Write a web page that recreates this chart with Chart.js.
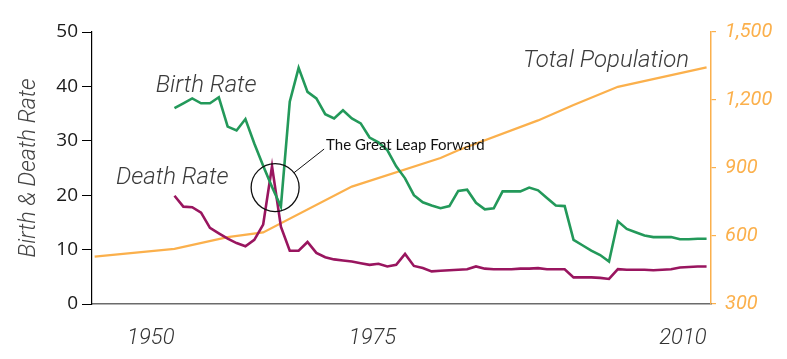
<!DOCTYPE html>
<html>
<head>
<meta charset="utf-8">
<script src="https://cdn.jsdelivr.net/npm/chart.js@4.4.1/dist/chart.umd.min.js"></script>
<style>
  html, body { margin: 0; padding: 0; background: #fff; }
  #wrap { width: 787px; height: 359px; position: relative; }
</style>
</head>
<body>
<div id="wrap"><canvas id="popChart"></canvas></div>
<script>
// yearly rates, per 1,000 people
var years = [1950, 1951, 1952, 1953, 1954, 1955, 1956, 1957, 1958, 1959,
  1960, 1961, 1962, 1963, 1964, 1965, 1966, 1967, 1968, 1969,
  1970, 1971, 1972, 1973, 1974, 1975, 1976, 1977, 1978, 1979,
  1980, 1981, 1982, 1983, 1984, 1985, 1986, 1987, 1988, 1989,
  1990, 1991, 1992, 1993, 1994, 1995, 1996, 1997, 1998, 1999,
  2000, 2001, 2002, 2003, 2004, 2005, 2006, 2007, 2008, 2009, 2010];

var birthRate = [36.0, 36.9, 37.8, 36.9, 36.9, 38.0, 32.6, 31.9, 34.0, 29.5,
  25.4, 21.5, 17.9, 37.2, 43.4, 39.0, 37.8, 34.9, 34.1, 35.6,
  34.1, 33.2, 30.6, 29.7, 28.3, 25.3, 23.1, 20.0, 18.7, 18.1,
  17.6, 18.0, 20.8, 21.0, 18.6, 17.4, 17.6, 20.7, 20.7, 20.7,
  21.4, 20.9, 19.5, 18.1, 18.0, 11.8, 10.8, 9.8, 9.0, 7.8,
  15.2, 13.8, 13.2, 12.6, 12.3, 12.3, 12.3, 11.9, 11.9, 12.0, 12.0];

var deathRate = [19.9, 17.9, 17.8, 16.8, 14.0, 13.0, 12.0, 11.2, 10.6, 11.8,
  14.6, 25.3, 14.2, 9.8, 9.8, 11.4, 9.4, 8.6, 8.2, 8.0,
  7.8, 7.5, 7.2, 7.4, 6.9, 7.2, 9.2, 7.0, 6.6, 6.0,
  6.1, 6.2, 6.3, 6.4, 6.9, 6.5, 6.4, 6.4, 6.4, 6.5,
  6.5, 6.6, 6.4, 6.4, 6.4, 4.9, 4.9, 4.9, 4.8, 4.6,
  6.4, 6.3, 6.3, 6.3, 6.2, 6.3, 6.4, 6.7, 6.8, 6.9, 6.9];

// total population, millions (right axis)
var popYears = [1941, 1950, 1956, 1960, 1970, 1980, 1982, 1991, 1995, 2000, 2010];
var popValues = [509, 543, 595, 616, 818, 944, 978, 1110, 1178, 1258, 1344];

var xTicks = [1950, 1975, 2010];
var rateTicks = [0, 10, 20, 30, 40, 50];
var popTicks = [300, 600, 900, 1200, 1500];

var GREEN = '#23995a';
var PURPLE = '#99155f';
var ORANGE = '#fbb04c';

// text labels, anchored in data space (year, rate)
var seriesLabels = [
  { text: 'Birth Rate', year: 1947.9, value: 39.0 },
  { text: 'Death Rate', year: 1943.4, value: 22.0 },
  { text: 'Total Population', year: 1989.3, value: 43.6 }
];
var leapCircle = { year: 1961.35, value: 21.4, r: 24 };
var leapNote = { text: 'The Great Leap Forward', year: 1967.1, value: 28.3 };

function toPoints(xs, ys) {
  return xs.map(function (x, i) { return { x: x, y: ys[i] }; });
}

var notesPlugin = {
  id: 'notes',
  afterDatasetsDraw: function (chart) {
    var ctx = chart.ctx;
    var x = chart.scales.x, y = chart.scales.y;
    ctx.save();
    ctx.fillStyle = '#3b3b3b';
    ctx.font = 'italic 300 24px Roboto, "Liberation Sans", sans-serif';
    ctx.textAlign = 'left';
    ctx.textBaseline = 'alphabetic';
    seriesLabels.forEach(function (l) {
      ctx.fillText(l.text, x.getPixelForValue(l.year), y.getPixelForValue(l.value));
    });

    // circle round the 1960 crossing, with a leader line to the note
    var cx = x.getPixelForValue(leapCircle.year);
    var cy = y.getPixelForValue(leapCircle.value);
    var tx = x.getPixelForValue(leapNote.year);
    var ty = y.getPixelForValue(leapNote.value);
    ctx.strokeStyle = '#111';
    ctx.lineWidth = 1.3;
    ctx.beginPath();
    ctx.arc(cx, cy, leapCircle.r, 0, Math.PI * 2);
    ctx.stroke();
    var ang = Math.atan2(ty - 1 - cy, tx - 2 - cx);
    ctx.lineWidth = 1;
    ctx.beginPath();
    ctx.moveTo(cx + leapCircle.r * Math.cos(ang), cy + leapCircle.r * Math.sin(ang));
    ctx.lineTo(tx - 2, ty - 1);
    ctx.stroke();

    ctx.fillStyle = '#111';
    ctx.font = '15px Lato, "Open Sans", sans-serif';
    ctx.fillText(leapNote.text, tx, ty);
    ctx.restore();
  }
};

var ctx = document.getElementById('popChart').getContext('2d');
var chart = new Chart(ctx, {
  type: 'line',
  data: {
    datasets: [
      {
        label: 'Birth Rate',
        data: toPoints(years, birthRate),
        borderColor: GREEN,
        borderWidth: 2.6,
        yAxisID: 'y'
      },
      {
        label: 'Death Rate',
        data: toPoints(years, deathRate),
        borderColor: PURPLE,
        borderWidth: 2.6,
        yAxisID: 'y'
      },
      {
        label: 'Total Population',
        data: toPoints(popYears, popValues),
        borderColor: ORANGE,
        borderWidth: 2.2,
        yAxisID: 'y1'
      }
    ]
  },
  options: {
    responsive: true,
    maintainAspectRatio: false,
    animation: false,
    layout: { padding: { top: 32, left: 0, right: 0, bottom: 0 } },
    elements: {
      point: { radius: 0, hoverRadius: 0 },
      line: { tension: 0, fill: false }
    },
    plugins: {
      legend: { display: false },
      tooltip: { enabled: false }
    },
    scales: {
      x: {
        type: 'linear',
        min: 1940.7,
        max: 2010.5,
        afterBuildTicks: function (scale) {
          scale.ticks = xTicks.map(function (v) { return { value: v }; });
        },
        afterFit: function (scale) { scale.height = 55; },
        grid: { display: false, drawTicks: false },
        border: { display: true, color: '#6b6b6b', width: 1.5 },
        ticks: {
          align: 'end',
          padding: 21,
          maxRotation: 0,
          color: '#333',
          font: { family: 'Roboto', size: 22, style: 'italic', weight: '300' },
          callback: function (v) { return String(v); }
        }
      },
      y: {
        position: 'left',
        min: 0,
        max: 50,
        afterBuildTicks: function (scale) {
          scale.ticks = rateTicks.map(function (v) { return { value: v }; });
        },
        afterFit: function (scale) { scale.width = 92; },
        grid: { drawOnChartArea: false, tickLength: 10, color: '#000', lineWidth: 1 },
        border: { color: '#000', width: 1.2 },
        ticks: {
          padding: 4,
          color: '#1a1a1a',
          font: { family: 'Open Sans', size: 19 }
        },
        title: {
          display: true,
          text: 'Birth & Death Rate',
          color: '#444',
          padding: { top: 15, bottom: 0 },
          font: { family: 'Roboto', size: 23, style: 'italic', weight: '300' }
        }
      },
      y1: {
        position: 'right',
        min: 300,
        max: 1500,
        afterBuildTicks: function (scale) {
          scale.ticks = popTicks.map(function (v) { return { value: v }; });
        },
        afterFit: function (scale) { scale.width = 76; },
        grid: { drawOnChartArea: false, tickLength: 5, color: ORANGE, lineWidth: 1.2 },
        border: { color: ORANGE, width: 1.5 },
        ticks: {
          padding: 9,
          color: ORANGE,
          font: { family: 'Roboto', size: 20, style: 'italic', weight: '400' },
          callback: function (v) { return v.toLocaleString('en-US'); }
        }
      }
    }
  },
  plugins: [notesPlugin]
});
</script>
</body>
</html>
